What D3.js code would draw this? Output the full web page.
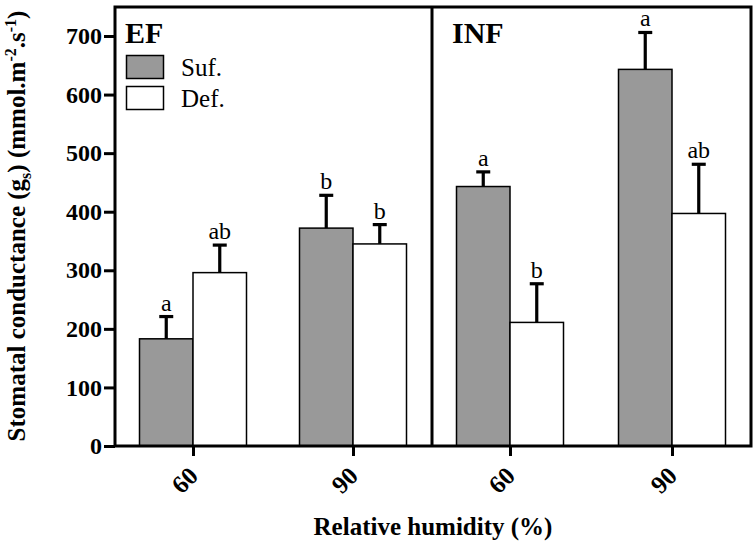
<!DOCTYPE html>
<html><head><meta charset="utf-8">
<script src="https://cdn.jsdelivr.net/npm/d3@7"></script>
<style>body{margin:0;background:#fff}svg{display:block}
text{font-family:"Liberation Serif","Times New Roman",Times,"DejaVu Serif",serif}</style>
</head><body>
<svg id="c" width="756" height="547"></svg>
<script>
const panels = ["EF", "INF"];
const humidity = ["60", "90"];
const series = ["Suf.", "Def."];
const colors = ["#999999", "#ffffff"];
// values[panel][humidity][series]
const means = [[[183, 296], [372, 345]], [[443, 211], [643, 397]]];
const errTop = [[[221, 343], [428, 378]], [[468, 277], [706, 481]]];
const letters = [[["a", "ab"], ["b", "b"]], [["a", "b"], ["a", "ab"]]];
const yTicks = [0, 100, 200, 300, 400, 500, 600, 700];

(function () {
const svg = d3.select("#c");
const mL = 115, mR = 751, mT = 7, mB = 446, divX = 432;
const y = d3.scaleLinear().domain([0, 700]).range([mB, 36]);

const panelX = [[mL, divX], [divX, mR]];
panels.forEach((p, pi) => {
  const gx = d3.scalePoint().domain(humidity).range([panelX[pi][0] + 78, panelX[pi][1] - 79]);
  const bw = 53.5;
  const xs = d3.scaleBand().domain(series).range([-bw, bw]).padding(0);
  const g = svg.append("g");
  humidity.forEach((h, hi) => {
    series.forEach((s, si) => {
      const bx = gx(h) + xs(s);
      const v = means[pi][hi][si];
      const e = errTop[pi][hi][si];
      g.append("line").attr("x1", bx + bw / 2).attr("x2", bx + bw / 2)
        .attr("y1", y(v)).attr("y2", y(e))
        .attr("stroke", "#000").attr("stroke-width", 3.2);
      g.append("line").attr("x1", bx + bw / 2 - 7).attr("x2", bx + bw / 2 + 7)
        .attr("y1", y(e)).attr("y2", y(e))
        .attr("stroke", "#000").attr("stroke-width", 3.2);
      g.append("rect").attr("x", bx).attr("y", y(v)).attr("width", xs.bandwidth())
        .attr("height", y(0) - y(v)).attr("fill", colors[si])
        .attr("stroke", "#000").attr("stroke-width", 1.5);
      g.append("text").attr("x", bx + bw / 2).attr("y", y(e) - 6)
        .attr("text-anchor", "middle").attr("font-size", 24)
        .text(letters[pi][hi][si]);
    });
  });
  const xa = svg.append("g").attr("transform", `translate(0,${mB})`)
    .call(d3.axisBottom(gx).tickSize(10).tickSizeOuter(0));
  xa.select(".domain").remove();
  xa.attr("font-family", null);
  xa.selectAll("line").attr("stroke", "#000").attr("stroke-width", 3);
  xa.selectAll("text").attr("font-size", 25).attr("font-weight", "bold")
    .attr("fill", "#000").attr("text-anchor", "middle")
    .attr("transform", `translate(-9,34) rotate(-45)`).attr("y", 0).attr("dy", "0.35em");
  svg.append("text").attr("x", panelX[pi][0] + (pi === 0 ? 10 : 20)).attr("y", 43)
    .attr("font-size", 30).attr("font-weight", "bold").text(p);
});

svg.append("rect").attr("x", mL).attr("y", mT).attr("width", mR - mL).attr("height", mB - mT)
  .attr("fill", "none").attr("stroke", "#000").attr("stroke-width", 3);
svg.append("line").attr("x1", divX).attr("x2", divX).attr("y1", mT).attr("y2", mB)
  .attr("stroke", "#000").attr("stroke-width", 3);

const ya = svg.append("g").attr("transform", `translate(${mL},0)`)
  .call(d3.axisLeft(y).tickValues(yTicks).tickSize(11).tickSizeOuter(0).tickPadding(2));
ya.select(".domain").remove();
ya.attr("font-family", null);
ya.selectAll("line").attr("stroke", "#000").attr("stroke-width", 3);
ya.selectAll("text").attr("font-size", 24).attr("font-weight", "bold").attr("fill", "#000");

series.forEach((s, i) => {
  svg.append("rect").attr("x", 126.5).attr("y", 55.5 + i * 31).attr("width", 37).attr("height", 23)
    .attr("fill", colors[i]).attr("stroke", "#000").attr("stroke-width", 1.5);
  svg.append("text").attr("x", 181).attr("y", 76 + i * 31)
    .attr("font-size", 25).text(s);
});

svg.append("text").attr("x", 433).attr("y", 535).attr("text-anchor", "middle")
  .attr("font-size", 25).attr("font-weight", "bold").text("Relative humidity (%)");
const yt = svg.append("text").attr("transform", "translate(25,226) rotate(-90)").attr("text-anchor", "middle")
  .attr("font-size", 25).attr("font-weight", "bold");
yt.append("tspan").text("Stomatal conductance (g");
yt.append("tspan").attr("font-size", 16).attr("dy", 6).text("s");
yt.append("tspan").attr("dy", -6).text(") (mmol.m");
yt.append("tspan").attr("font-size", 16).attr("dy", -9).text("-2");
yt.append("tspan").attr("dy", 9).text(".s");
yt.append("tspan").attr("font-size", 16).attr("dy", -9).text("-1");
yt.append("tspan").attr("dy", 9).text(")");
})();
</script>
</body></html>
